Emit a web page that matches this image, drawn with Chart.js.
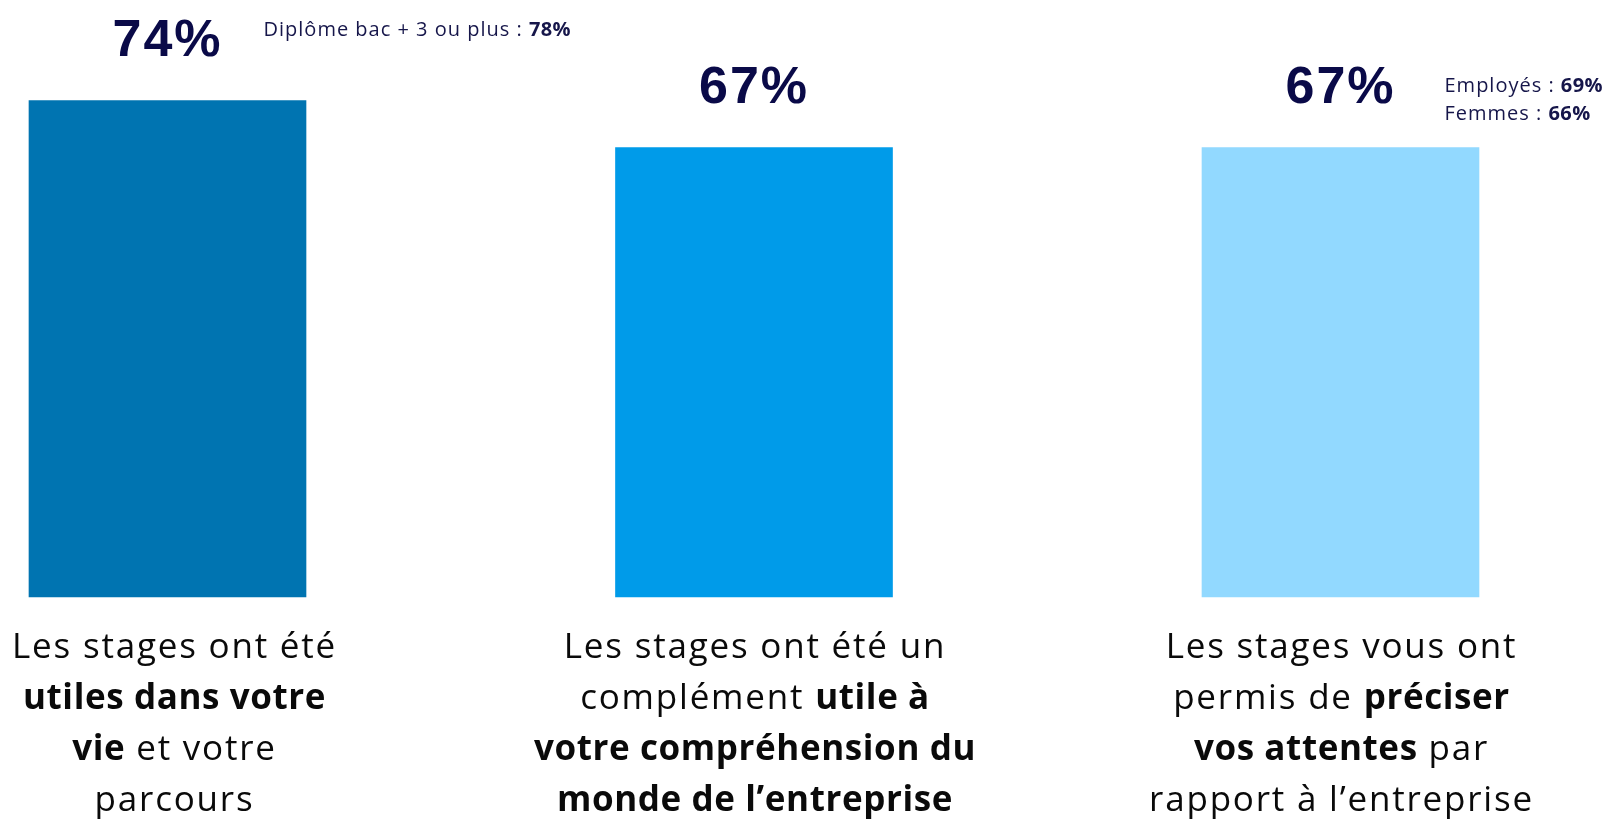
<!DOCTYPE html>
<html>
<head>
<meta charset="utf-8">
<script src="https://cdn.jsdelivr.net/npm/chart.js@4/dist/chart.umd.min.js"></script>
<style>
  html, body { margin: 0; padding: 0; background: #ffffff; }
  #wrap { width: 1604px; height: 819px; }
</style>
</head>
<body>
<div id="wrap"><canvas id="c" width="1604" height="819"></canvas></div>
<script>
// ---- data ----
const categories = [
  "Les stages ont été utiles dans votre vie et votre parcours",
  "Les stages ont été un complément utile à votre compréhension du monde de l’entreprise",
  "Les stages vous ont permis de préciser vos attentes par rapport à l’entreprise"
];
// tick labels, line by line; **...** marks bold parts
const tickLabelLines = [
  ["Les stages ont été", "**utiles dans votre**", "**vie** et votre", "parcours"],
  ["Les stages ont été un", "complément **utile à**", "**votre compréhension du**", "**monde de l’entreprise**"],
  ["Les stages vous ont", "permis de **préciser**", "**vos attentes** par", "rapport à l’entreprise"]
];
const values = [74, 67, 67];
const valueLabels = ["74%", "67%", "67%"];
const subgroupNotes = [
  ["Diplôme bac + 3 ou plus : **78%**"],
  [],
  ["Employés : **69%**", "Femmes : **66%**"]
];
const barColors = ["#0074B1", "#009BE9", "#92D9FF"];

// ---- helpers ----
function parseSegs(line) {
  const parts = line.split("**");
  return parts.map((t, i) => ({ text: t, bold: i % 2 === 1 })).filter(s => s.text.length);
}
function drawRich(ctx, line, x, y, size, family, color, align, spNormal, spBold) {
  const segs = parseSegs(line);
  let total = 0;
  const setFont = s => {
    ctx.font = (s.bold ? "bold" : "normal") + " " + size + "px " + family;
    ctx.letterSpacing = (s.bold ? spBold : spNormal) + "px";
  };
  segs.forEach(s => {
    setFont(s);
    s.w = ctx.measureText(s.text).width;
    total += s.w;
  });
  let cx = align === "center" ? x - total / 2 : x;
  ctx.fillStyle = color;
  ctx.textAlign = "left";
  ctx.textBaseline = "alphabetic";
  segs.forEach(s => {
    setFont(s);
    ctx.fillText(s.text, cx, y);
    cx += s.w;
  });
  ctx.letterSpacing = "0px";
}

const labelPlugin = {
  id: "labelPlugin",
  afterDatasetsDraw(chart) {
    const ctx = chart.ctx;
    const meta = chart.getDatasetMeta(0);
    const bottom = chart.scales.y.getPixelForValue(0);
    ctx.save();
    meta.data.forEach((bar, i) => {
      // value label
      const vy = bar.y - 45;
      ctx.font = "bold 52px 'Liberation Sans', Arial, sans-serif";
      ctx.fillStyle = "#0A0A48";
      ctx.textAlign = "center";
      ctx.textBaseline = "alphabetic";
      ctx.letterSpacing = "2px";
      ctx.fillText(valueLabels[i], bar.x, vy);
      ctx.letterSpacing = "0px";
      // subgroup notes
      const notes = subgroupNotes[i];
      if (notes.length) {
        const start = notes.length === 1 ? vy - 20 : vy - 11;
        notes.forEach((n, k) => {
          drawRich(ctx, n, bar.x + (i === 0 ? 96 : 104), start + k * 28, 20, "'Open Sans', sans-serif", "#16164A", "left", 1.0, 0.4);
        });
      }
      // category label
      tickLabelLines[i].forEach((ln, k) => {
        drawRich(ctx, ln, bar.x + (i === 0 ? 7 : 1), bottom + 61 + k * 51, 35, "'Open Sans', sans-serif", "#0A0A0A", "center", 1.8, 0.6);
      });
    });
    ctx.restore();
  }
};

new Chart(document.getElementById("c"), {
  type: "bar",
  data: {
    labels: categories,
    datasets: [{
      data: values,
      backgroundColor: barColors,
      borderWidth: 0,
      barThickness: 277,
      clip: false
    }]
  },
  options: {
    responsive: false,
    devicePixelRatio: 1,
    animation: false,
    events: [],
    layout: { padding: { left: 167.5, right: 263.5, top: 0, bottom: 222 } },
    plugins: { legend: { display: false }, tooltip: { enabled: false } },
    scales: {
      x: { type: "category", offset: false, display: false, grid: { display: false } },
      y: { min: 0, max: 89, display: false, grid: { display: false } }
    }
  },
  plugins: [labelPlugin]
});
</script>
</body>
</html>
